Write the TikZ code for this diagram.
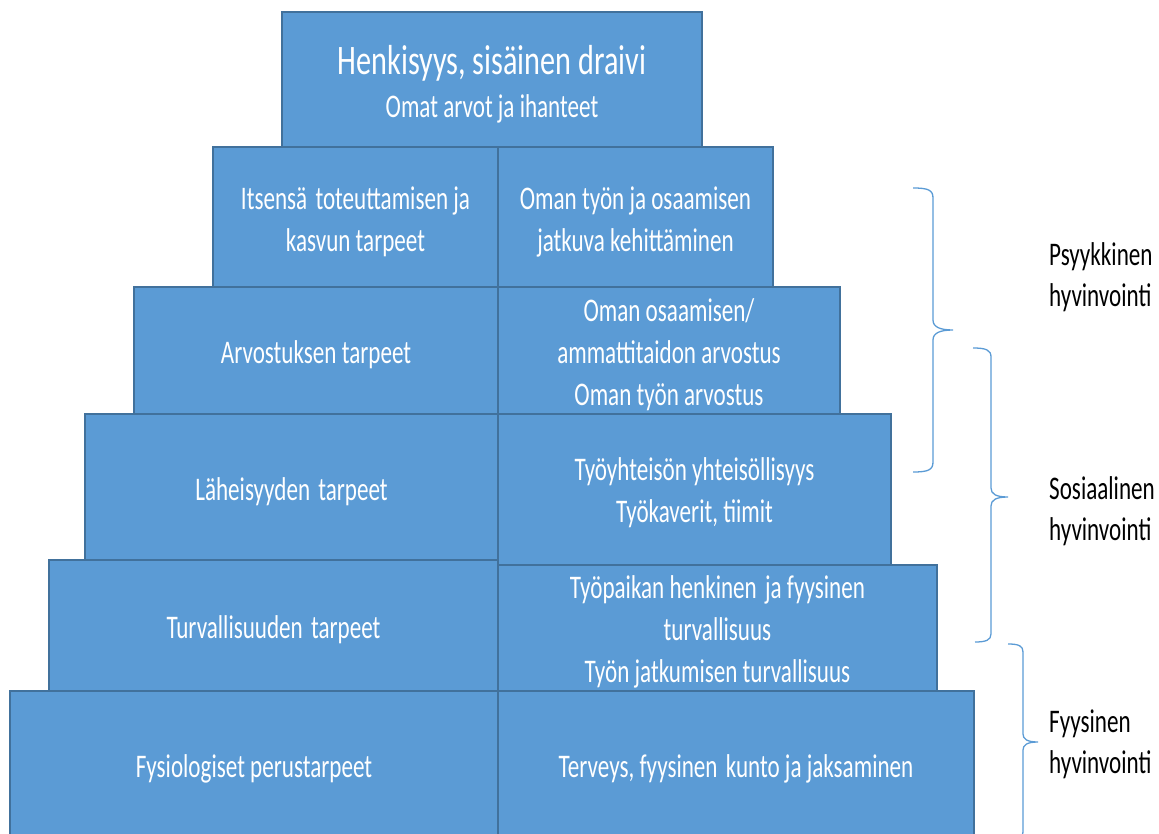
\documentclass[tikz,border=0pt]{standalone}
\usepackage{fontspec}
\newfontfamily\bodyfnt{Carlito}[FakeStretch=0.7]
\newfontfamily\titlefnt{Carlito}[FakeStretch=0.72]
\definecolor{boxfill}{HTML}{5B9BD5}
\definecolor{boxline}{HTML}{41719C}
\definecolor{bracecol}{HTML}{5B9BD5}
\newcommand{\wsp}{\ \kern3pt}
\tikzset{
  blk/.style={draw=boxline, fill=boxfill, line width=1.5pt, inner sep=0pt, outer sep=0pt},
  txt/.style={inner sep=0pt, text=white, align=center,
    font={\bodyfnt\fontsize{33}{42}\selectfont}},
  lbl/.style={anchor=west, inner sep=0pt, align=left, text=black,
    font={\bodyfnt\fontsize{33}{41}\selectfont}},
  brc/.style={draw=bracecol, line width=1.3pt}
}
\begin{document}
\begin{tikzpicture}[x=1pt,y=-1pt]
\useasboundingbox (0,0) rectangle (1159,834);
\clip (0,0) rectangle (1159,834);
% boxes
\node[blk, minimum width=420pt, minimum height=135pt] (top) at (492,79.5) {};
\node[blk, minimum width=285pt, minimum height=140pt] (r1l) at (355.5,217) {};
\node[blk, minimum width=275pt, minimum height=140pt] (r1r) at (635.5,217) {};
\node[blk, minimum width=364pt, minimum height=127pt] (r2l) at (316,350.5) {};
\node[blk, minimum width=342pt, minimum height=127pt] (r2r) at (669,350.5) {};
\node[blk, minimum width=413pt, minimum height=146pt] (r3l) at (291.5,487) {};
\node[blk, minimum width=393pt, minimum height=151pt] (r3r) at (694.5,489.5) {};
\node[blk, minimum width=449pt, minimum height=131pt] (r4l) at (273.5,625.5) {};
\node[blk, minimum width=439pt, minimum height=126pt] (r4r) at (717.5,628) {};
\node[blk, minimum width=488pt, minimum height=152pt] (r5l) at (254,767) {};
\node[blk, minimum width=476pt, minimum height=152pt] (r5r) at (736,767) {};
% texts
\node[txt] (topt) at ([yshift=-5pt]top.center)
  {{\titlefnt\fontsize{42}{43}\selectfont Henkisyys, sis\"ainen draivi}\\[1pt]Omat arvot ja ihanteet};
\node[txt] (r1lt) at ([yshift=-5pt]r1l.center) {Itsens\"a\wsp toteuttamisen ja\\kasvun tarpeet};
\node[txt] (r1rt) at ([yshift=-5pt]r1r.center) {Oman ty\"on ja osaamisen\\jatkuva kehitt\"aminen};
\node[txt] (r2lt) at ([yshift=-4pt]r2l.center) {Arvostuksen tarpeet};
\node[txt] (r2rt) at ([yshift=-4pt]r2r.center) {Oman osaamisen/\\ammattitaidon arvostus\\Oman ty\"on arvostus};
\node[txt] (r3lt) at ([yshift=-5pt]r3l.center) {L\"aheisyyden\wsp tarpeet};
\node[txt] (r3rt) at ([yshift=-3pt]r3r.center) {Ty\"oyhteis\"on yhteis\"ollisyys\\Ty\"okaverit, tiimit};
\node[txt] (r4lt) at ([yshift=-4pt]r4l.center) {Turvallisuuden\wsp tarpeet};
\node[txt] (r4rt) at ([yshift=-4pt]r4r.center) {Ty\"opaikan henkinen\wsp ja fyysinen\\turvallisuus\\Ty\"on jatkumisen turvallisuus};
\node[txt] (r5lt) at ([yshift=-2pt]r5l.center) {Fysiologiset perustarpeet};
\node[txt] (r5rt) at ([yshift=-2pt]r5r.center) {Terveys, fyysinen\wsp kunto ja jaksaminen};
% braces
\draw[brc] (913,188) .. controls (928,188) and (933,190) .. (933,198) -- (933,320)
  .. controls (933,327) and (940,330) .. (953,330)
  .. controls (940,330) and (933,333) .. (933,340) -- (933,462)
  .. controls (933,470) and (928,472) .. (913,472);
\draw[brc] (973,348) .. controls (986,348) and (991,350) .. (991,357) -- (991,488)
  .. controls (991,494) and (996,497) .. (1008,497)
  .. controls (996,497) and (991,500) .. (991,506) -- (991,634)
  .. controls (991,640) and (986,642) .. (975,642);
\draw[brc] (1008,644) .. controls (1019,644) and (1023,646) .. (1023,652) -- (1023,734)
  .. controls (1023,739) and (1027,742) .. (1038,742)
  .. controls (1027,742) and (1023,745) .. (1023,750) -- (1023,832)
  .. controls (1023,838) and (1019,840) .. (1008,840);
% labels
\node[lbl] (psy) at (1049,277.5) {Psyykkinen\\hyvinvointi};
\node[lbl] (sos) at (1049,511) {Sosiaalinen\\hyvinvointi};
\node[lbl] (fyy) at (1049,744) {Fyysinen\\hyvinvointi};
\end{tikzpicture}
\end{document}
